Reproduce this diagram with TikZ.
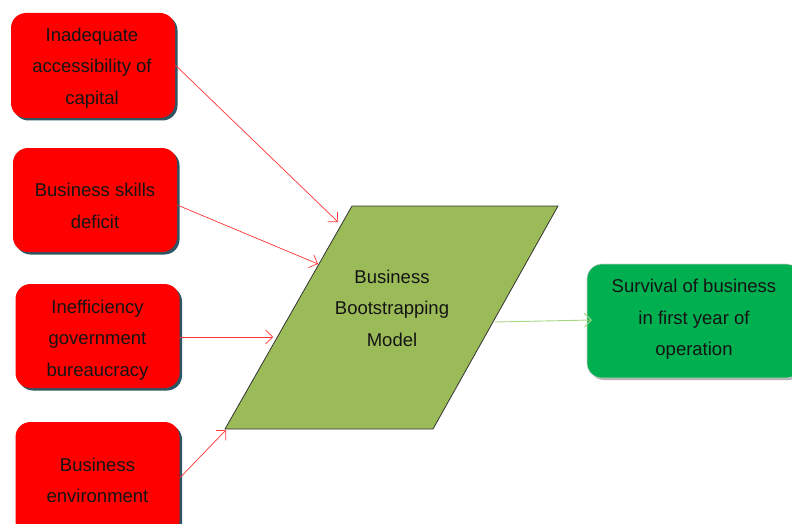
\documentclass[tikz,border=0pt]{standalone}
\usepackage{fontspec}
\setmainfont{Liberation Sans}
\usetikzlibrary{arrows.meta,shadows}
\definecolor{boxred}{HTML}{FF0000}
\definecolor{boxgreen}{HTML}{00B050}
\definecolor{olivefill}{HTML}{9BBB59}
\definecolor{shadowslate}{HTML}{2E5563}
\definecolor{linkgreen}{HTML}{A6D785}
\tikzset{
  cause/.style={rounded corners=15pt, fill=boxred, draw=none,
    drop shadow={shadow xshift=2.5pt, shadow yshift=-2.5pt, fill=shadowslate, opacity=1},
    minimum width=164pt, inner sep=0pt},
  outcome/.style={rounded corners=15pt, fill=boxgreen, draw=gray!40, line width=0.6pt,
    drop shadow={shadow xshift=2pt, shadow yshift=-2pt, fill=gray!60, opacity=1},
    minimum width=214pt, minimum height=114pt, inner sep=0pt},
  label text/.style={align=center, inner sep=0pt,
    font=\fontsize{18.5}{31.5}\selectfont, text=black!92},
  redlink/.style={draw=red!80, line width=0.7pt, -{Straight Barb[length=7pt,width=14pt]}},
  greenlink/.style={draw=linkgreen, line width=0.9pt, -{Straight Barb[length=7pt,width=14pt]}}
}
\begin{document}
\begin{tikzpicture}[x=1pt,y=-1pt]
\useasboundingbox (0,0) rectangle (792,524);

% cause boxes
\node[cause, minimum height=105pt] (c1) at (93,65.5) {};
\node[cause, minimum height=104pt] (c2) at (95,200) {};
\node[cause, minimum height=104pt] (c3) at (97.5,336) {};
\node[cause, minimum height=114pt] (c4) at (97.5,479) {};
\node[label text] (c1t) at (92,68) {Inadequate\\accessibility of\\capital};
\node[label text] (c2t) at (95,206) {Business skills\\deficit};
\node[label text] (c3t) at (97.5,340) {Inefficiency\\government\\bureaucracy};
\node[label text] (c4t) at (97.5,480.5) {Business\\environment};

% model parallelogram
\coordinate (ptl) at (352,206);
\coordinate (ptr) at (558,206);
\coordinate (pbr) at (433,429);
\coordinate (pbl) at (225,429);
\draw[fill=olivefill, draw=black!80, line width=0.8pt] (ptl) -- (ptr) -- (pbr) -- (pbl) -- cycle;
\node[label text] (model) at (392,308) {Business\\Bootstrapping\\Model};

% outcome box
\node[outcome] (out) at (694,321) {};
\node[label text] (outt) at (694,319.5) {Survival of business\\in first year of\\operation};

% arrow end points on the model
\coordinate (e1) at (338,222);
\coordinate (e2) at (318,264);
\coordinate (e3) at (273,337);
\coordinate (e4) at (226,430);
\coordinate (s5) at (495,322);
\coordinate (e5) at (592,320);

\draw[redlink] (c1.east |- 0,65) -- (e1);
\draw[redlink] (c2.east |- 0,205) -- (e2);
\draw[redlink] (c3.east |- 0,337) -- (e3);
\draw[redlink] (c4.east |- 0,478) -- (e4);
\draw[greenlink] (s5) -- (e5);
\end{tikzpicture}
\end{document}
